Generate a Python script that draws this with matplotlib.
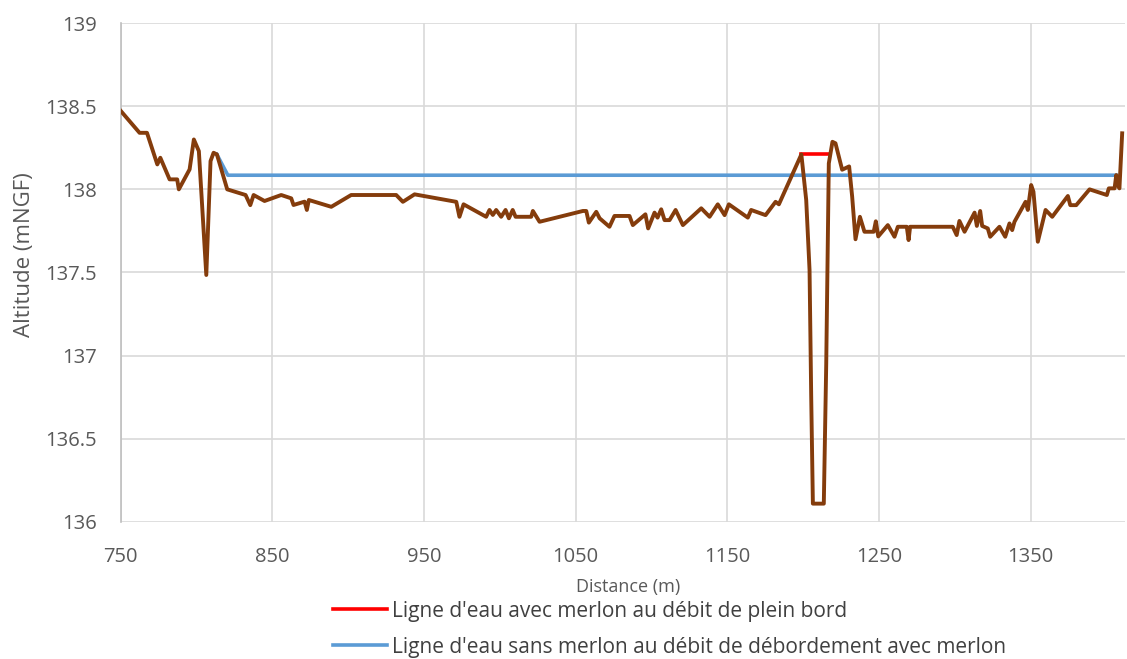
import matplotlib.pyplot as plt

plt.rcParams['font.family'] = ['Open Sans', 'DejaVu Sans']

# terrain profile (brown)
dist = [750, 762.5, 767.4, 774.2, 776.2, 782.3, 787.3, 788.4, 795.5, 798.3,
        801.6, 806.5, 809.3, 811.3, 813.5, 820.3, 832.4, 835.5, 837.7, 844.9,
        855.9, 862.5, 864, 871.3, 872.8, 874.1, 888.9, 902, 931.7, 936.1,
        943.8, 971.3, 973.4, 976.1, 991, 993.2, 995.4, 997.6, 1000.9, 1003.8,
        1006, 1008.5, 1010.4, 1020.7, 1021.8, 1026.2, 1054.8, 1057, 1058.7, 1063.6,
        1065.8, 1072.3, 1075.6, 1085.5, 1087.7, 1096, 1097.8, 1102, 1104, 1106.4,
        1108.6, 1111.9, 1115.9, 1120.7, 1132.8, 1138.3, 1143.7, 1148.2, 1151, 1163.5,
        1165.7, 1175.2, 1181.8, 1184, 1193.2, 1198.8, 1202, 1204.2, 1205.3, 1206.4,
        1213.6, 1215.2, 1216.3, 1216.9, 1219.3, 1221.3, 1225.7, 1230.3, 1232.3, 1234.5,
        1237.4, 1240.4, 1246.5, 1247.9, 1249.5, 1255.8, 1260.2, 1262.4, 1268.3, 1269.5,
        1270.5, 1298.6, 1301.2, 1303, 1306.4, 1313, 1314.5, 1316.7, 1318, 1321.7,
        1323.3, 1329.4, 1333.2, 1336, 1337.8, 1339.3, 1346.6, 1348.1, 1350.3, 1351.8,
        1354.7, 1359.8, 1364.2, 1374.5, 1376.1, 1380, 1388.8, 1400.2, 1401.5, 1405.3,
        1406.4, 1407.4, 1408.5, 1410.3]
alt = [138.473, 138.34, 138.34, 138.15, 138.19, 138.06, 138.06, 138.0, 138.12, 138.30,
       138.23, 137.485, 138.17, 138.22, 138.21, 138.0, 137.966, 137.905, 137.966, 137.93,
       137.966, 137.946, 137.906, 137.926, 137.876, 137.936, 137.895, 137.966, 137.966, 137.925,
       137.97, 137.925, 137.835, 137.91, 137.835, 137.876, 137.846, 137.876, 137.835, 137.876,
       137.826, 137.876, 137.835, 137.835, 137.87, 137.805, 137.87, 137.87, 137.8, 137.865,
       137.826, 137.775, 137.84, 137.84, 137.785, 137.85, 137.765, 137.86, 137.83, 137.88,
       137.815, 137.815, 137.876, 137.785, 137.886, 137.835, 137.91, 137.845, 137.91, 137.83,
       137.876, 137.845, 137.925, 137.91, 138.096, 138.21, 137.936, 137.515, 136.75, 136.11,
       136.11, 136.95, 137.755, 138.156, 138.286, 138.277, 138.118, 138.138, 137.956, 137.7,
       137.835, 137.745, 137.745, 137.808, 137.717, 137.785, 137.715, 137.775, 137.775, 137.695,
       137.775, 137.775, 137.725, 137.81, 137.745, 137.86, 137.78, 137.87, 137.78, 137.765,
       137.715, 137.775, 137.715, 137.795, 137.755, 137.805, 137.925, 137.876, 138.026, 137.986,
       137.685, 137.876, 137.835, 137.96, 137.905, 137.905, 138.0, 137.966, 138.006, 138.006,
       138.086, 138.026, 138.006, 138.337]

# water lines
red_x = [1198.8, 1217.2]
red_y = [138.21, 138.21]
blue_x = [813.5, 820.7, 1406.5]
blue_y = [138.21, 138.085, 138.085]

red_label = "Ligne d'eau avec merlon au débit de plein bord"
blue_label = "Ligne d'eau sans merlon au débit de débordement avec merlon"

xticks = [750, 850, 950, 1050, 1150, 1250, 1350]
yticks = [136, 136.5, 137, 137.5, 138, 138.5, 139]
ytick_labels = ['136', '136.5', '137', '137.5', '138', '138.5', '139']

fig = plt.figure(figsize=(11.27, 6.59), dpi=100)
ax = fig.add_axes([0.107, 0.208, 0.891, 0.757])

l_red, = ax.plot(red_x, red_y, color='#FF0000', lw=2.6, label=red_label, zorder=3)
l_blue, = ax.plot(blue_x, blue_y, color='#5B9BD5', lw=2.6, label=blue_label, zorder=3)
ax.plot(dist, alt, color='#843C0C', lw=2.8, zorder=4, solid_joinstyle='round')

ax.set_xlim(750, 1412)
ax.set_ylim(136, 139)
ax.set_xticks(xticks)
ax.set_yticks(yticks)
ax.set_yticklabels(ytick_labels)
ax.grid(True, color='#D9D9D9', lw=1.2)
ax.set_axisbelow(True)
for s in ['top', 'right', 'bottom']:
    ax.spines[s].set_visible(False)
ax.spines['left'].set_color('#BFBFBF')
ax.spines['left'].set_linewidth(1.2)
ax.tick_params(length=0, colors='#595959', labelsize=14.5)
ax.tick_params(axis='y', pad=17)
ax.tick_params(axis='x', pad=18)

ax.set_ylabel('Altitude (mNGF)', fontsize=16, color='#595959')
ax.yaxis.set_label_coords(-0.085, 0.535)
ax.set_xlabel('Distance (m)', fontsize=13, color='#595959')
ax.xaxis.set_label_coords(0.505, -0.113)

fig.legend(handles=[l_red, l_blue], loc='upper left', bbox_to_anchor=(0.2955, 0.0885),
           frameon=False, fontsize=15, handlelength=2.6, handletextpad=0.25,
           labelspacing=0.72, borderpad=0, borderaxespad=0, labelcolor='#404040')

fig.savefig('out.png', dpi=100)
